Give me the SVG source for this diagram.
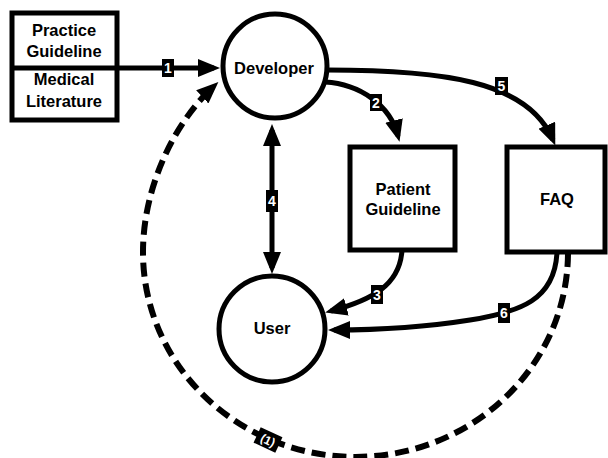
<svg xmlns="http://www.w3.org/2000/svg" width="608" height="458" viewBox="0 0 608 458">
<defs>
<style>
.node{fill:#fff;stroke:#000;stroke-width:5}
.t{font-family:"Liberation Sans",Arial,sans-serif;font-weight:bold;font-size:16.5px;text-anchor:middle;fill:#000}
.c{fill:none;stroke:#000;stroke-width:5}
.d{fill:none;stroke:#000;stroke-width:6;stroke-dasharray:14 7}
.lb{fill:#000}
.lt{font-family:"Liberation Sans",Arial,sans-serif;font-weight:bold;font-size:14px;text-anchor:middle;fill:#fff}
</style>
<marker id="ah" markerUnits="userSpaceOnUse" markerWidth="22" markerHeight="18" viewBox="0 0 22 18" refX="16" refY="9" orient="auto-start-reverse">
<path d="M0,0 L22,9 L0,18 z" fill="#000"/>
</marker>
</defs>
<rect width="608" height="458" fill="#fff"/>
<g id="connectors">
<path class="c" d="M118 68 L214 68" marker-end="url(#ah)"/>
<path class="c" d="M327 70 C440 70 528 80 553 140" marker-end="url(#ah)"/>
<path class="c" d="M325 82 C360 84 390 105 398 136" marker-end="url(#ah)"/>
<path class="c" d="M272 130 L272 268" marker-start="url(#ah)" marker-end="url(#ah)"/>
<path class="c" d="M402 250 C400 285 372 300 331 311" marker-end="url(#ah)"/>
<path class="c" d="M557 252 C555 300 520 312 470 320 S366 330 334 330" marker-end="url(#ah)"/>
<path class="d" d="M568 253 A212 204 0 0 1 143 252 C143 190 172 125 214 86" marker-end="url(#ah)"/>
<g id="label1"><rect class="lb" x="162" y="59" width="12" height="18"/><text class="lt" x="168" y="73">1</text></g>
<g id="label2"><rect class="lb" x="370" y="94" width="12" height="17"/><text class="lt" x="376" y="107.5">2</text></g>
<g id="label3"><rect class="lb" x="371" y="285" width="12" height="19"/><text class="lt" x="377" y="299.5">3</text></g>
<g id="label4"><rect class="lb" x="266" y="190" width="12" height="22"/><text class="lt" x="272" y="206">4</text></g>
<g id="label5"><rect class="lb" x="495" y="77" width="13" height="18"/><text class="lt" x="501.5" y="91">5</text></g>
<g id="label6"><rect class="lb" x="498" y="303" width="12" height="20"/><text class="lt" x="504" y="318">6</text></g>
<g id="label1b" transform="translate(268 440) rotate(25)"><rect class="lb" x="-12" y="-8.5" width="24" height="17"/><text class="lt" x="0" y="4.5" style="font-size:12px">(1)</text></g>
</g>
<g id="sources">
<rect class="node" x="12" y="13" width="105" height="107"/>
<line x1="12" y1="68" x2="117" y2="68" stroke="#000" stroke-width="5"/>
<text class="t" x="64" y="36">Practice</text>
<text class="t" x="64" y="57">Guideline</text>
<text class="t" x="64" y="85">Medical</text>
<text class="t" x="64" y="107">Literature</text>
</g>
<g id="developer">
<circle class="node" cx="275" cy="66" r="52"/>
<text class="t" x="274" y="74">Developer</text>
</g>
<g id="patient-guideline">
<rect class="node" x="350" y="147" width="105" height="103"/>
<text class="t" x="403" y="195">Patient</text>
<text class="t" x="403" y="215">Guideline</text>
</g>
<g id="faq">
<rect class="node" x="507" y="147" width="98" height="105"/>
<text class="t" x="557" y="205">FAQ</text>
</g>
<g id="user">
<circle class="node" cx="272" cy="329" r="53"/>
<text class="t" x="272" y="334">User</text>
</g>
</svg>
